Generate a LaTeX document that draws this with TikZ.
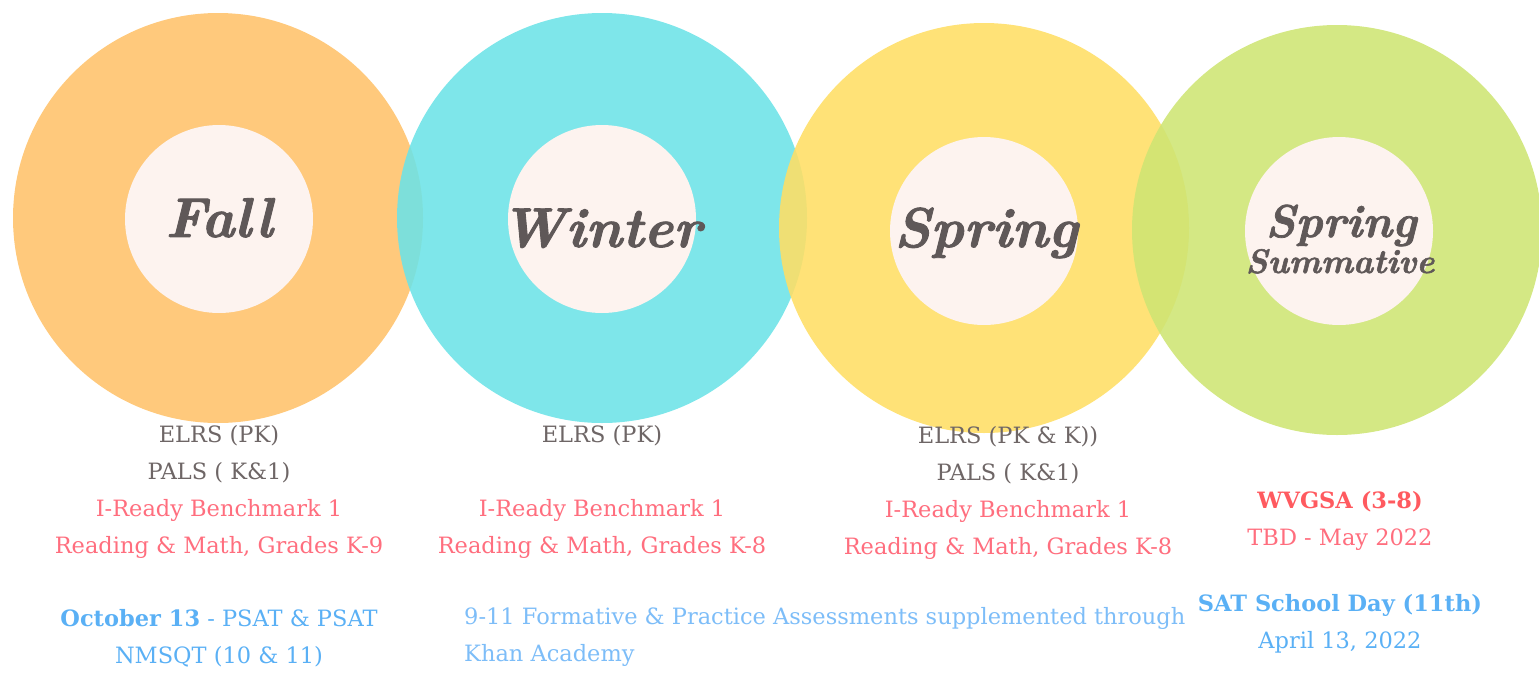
\documentclass[tikz,border=0pt]{standalone}
\usetikzlibrary{positioning}
\usepackage{fontspec}
\usepackage{xcolor}
\newfontfamily\bodyfont{DejaVu Serif}
\newfontfamily\titlefont{lmroman10-bolditalic.otf}[FakeBold=1.6]
\definecolor{FallOrange}{RGB}{255,194,106}
\definecolor{WinterCyan}{RGB}{108,227,231}
\definecolor{SpringYellow}{RGB}{255,222,100}
\definecolor{SummGreen}{RGB}{206,229,115}
\definecolor{HubCream}{HTML}{FDF3EF}
\definecolor{TitleGray}{HTML}{5F5858}
\definecolor{BodyGray}{HTML}{6E6666}
\definecolor{IReadyPink}{HTML}{FF6E7E}
\definecolor{WvgsaRed}{HTML}{FF5A5F}
\definecolor{SatBlue}{HTML}{5AB0F5}
\definecolor{KhanBlue}{HTML}{7DBDF8}
\tikzset{
    % rings and hubs
    ring/.style={
        circle,
        inner sep=0pt,
        minimum size=410pt,
        fill opacity=0.88
    },
    hub/.style={
        circle,
        inner sep=0pt,
        minimum size=188pt,
        fill=HubCream
    },
    % season titles
    season/.style={
        anchor=base,
        inner sep=0pt,
        text=TitleGray,
        font=\titlefont\fontsize{56}{56}\selectfont
    },
    % text blocks under the rings
    listing/.style={
        anchor=north,
        align=center,
        inner sep=0pt,
        font=\bodyfont\fontsize{22.5}{37}\selectfont
    }
}

\begin{document}
\begin{tikzpicture}[x=1pt, y=-1pt]
    \useasboundingbox (0,0) rectangle (1539,672);

    \node[ring, fill=FallOrange] (fall) at (218,218) {};
    \node[ring, fill=WinterCyan] (winter) at (602,218) {};
    \node[ring, fill=SpringYellow] (spring) at (984,228) {};
    \node[ring, fill=SummGreen] (summ) at (1337,230) {};

    \node[hub] (fallhub) at (219,219) {};
    \node[hub] (winterhub) at (602,219) {};
    \node[hub] (springhub) at (984,231) {};
    \node[hub] (summhub) at (1339,231) {};

    \node[season] (falltitle) at (219,237) {Fall};
    \node[season] (wintertitle) at (601,247) {Winter};
    \node[season] (springtitle) at (986,247) {Spring};
    \node[season, font=\titlefont\fontsize{46}{46}\selectfont] (summtitle) at (1341,237) {Spring};
    \node[season, font=\titlefont\fontsize{34}{34}\selectfont] (summsub) at (1340,273) {Summative};

    % Fall
    \node[listing] (falllist) at (219,425) {%
        \textcolor{BodyGray}{ELRS (PK)}\\
        \textcolor{BodyGray}{PALS ( K\&1)}\\
        \textcolor{IReadyPink}{I-Ready Benchmark 1}\\
        \textcolor{IReadyPink}{Reading \& Math, Grades K-9}};
    \node[listing] (fallsat) at (219,609) {%
        \textcolor{SatBlue}{\textbf{October 13} - PSAT \& PSAT}\\
        \textcolor{SatBlue}{NMSQT (10 \& 11)}};

    % Winter
    \node[listing] (winterlist) at (602,425) {%
        \textcolor{BodyGray}{ELRS (PK)}\\[37pt]
        \textcolor{IReadyPink}{I-Ready Benchmark 1}\\
        \textcolor{IReadyPink}{Reading \& Math, Grades K-8}};
    \node[listing, anchor=north west, align=left] (khan) at (464,607) {%
        \textcolor{KhanBlue}{9-11 Formative \& Practice Assessments supplemented through}\\
        \textcolor{KhanBlue}{Khan Academy}};

    % Spring
    \node[listing] (springlist) at (1008,426) {%
        \textcolor{BodyGray}{ELRS (PK \& K))}\\
        \textcolor{BodyGray}{PALS ( K\&1)}\\
        \textcolor{IReadyPink}{I-Ready Benchmark 1}\\
        \textcolor{IReadyPink}{Reading \& Math, Grades K-8}};

    % Spring Summative
    \node[listing] (wvgsa) at (1340,491) {%
        \textcolor{WvgsaRed}{\textbf{WVGSA (3-8)}}\\
        \textcolor{IReadyPink}{TBD - May 2022}};
    \node[listing] (satday) at (1340,594) {%
        \textcolor{SatBlue}{\textbf{SAT School Day (11th)}}\\
        \textcolor{SatBlue}{April 13, 2022}};
\end{tikzpicture}
\end{document}
